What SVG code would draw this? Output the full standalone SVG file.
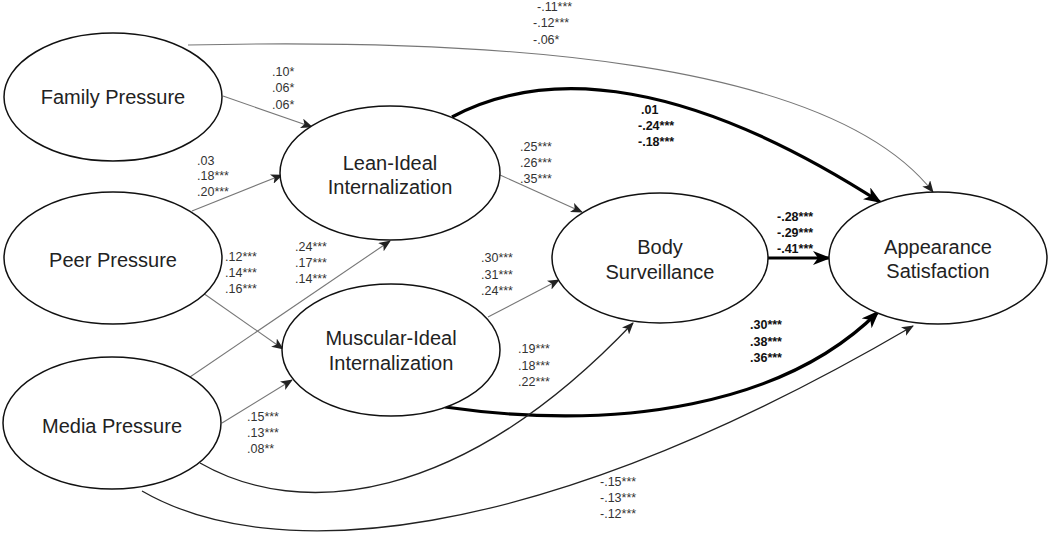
<svg xmlns="http://www.w3.org/2000/svg" width="1050" height="533" viewBox="0 0 1050 533">
<defs>
<style>
.node ellipse{fill:#fff;stroke:#111;stroke-width:1.5}
.node text{font-family:"Liberation Sans",Arial,sans-serif;font-size:20px;fill:#222;text-anchor:middle}
.thin{fill:none;stroke:#777;stroke-width:1.1}
.dark{fill:none;stroke:#222;stroke-width:1.3}
.thick{fill:none;stroke:#000;stroke-width:3.2}
.lab{font-family:"Liberation Sans",Arial,sans-serif;font-size:12.5px;fill:#333}
.lab.b{font-weight:bold;fill:#111}
</style>
<marker id="aThin" markerUnits="userSpaceOnUse" markerWidth="12" markerHeight="10" viewBox="0 0 12 10" refX="11" refY="5" orient="auto">
<path d="M0,0 L12,5 L0,10 L3,5 z" fill="#222"/>
</marker>
<marker id="aThick" markerUnits="userSpaceOnUse" markerWidth="18" markerHeight="14" viewBox="0 0 18 14" refX="16" refY="7" orient="auto">
<path d="M0,0 L18,7 L0,14 L5,7 z" fill="#000"/>
</marker>
</defs>
<rect width="1050" height="533" fill="#fff"/>
<g id="connectors">
<path class="thin" d="M188,45 C500,38 830,60 933,192" marker-end="url(#aThin)"/>
<path class="thin" d="M223,96 L312,127" marker-end="url(#aThin)"/>
<path class="thin" d="M192,211 L282,175" marker-end="url(#aThin)"/>
<path class="thin" d="M203,293 L283,349" marker-end="url(#aThin)"/>
<path class="thin" d="M190,377 L390,241" marker-end="url(#aThin)"/>
<path class="thin" d="M222,423 L292,380" marker-end="url(#aThin)"/>
<path class="thin" d="M500,175 L582,212" marker-end="url(#aThin)"/>
<path class="thin" d="M488,317 L559,280" marker-end="url(#aThin)"/>
<path class="thick" d="M452,117 C550,65 690,80 880,202" marker-end="url(#aThick)"/>
<path class="thick" d="M768,258 L829,258" marker-end="url(#aThick)"/>
<path class="thick" d="M445,407 C620,432 785,405 878,312" marker-end="url(#aThick)"/>
<path class="dark" d="M200,463 C300,520 460,505 633,323" marker-end="url(#aThin)"/>
<path class="dark" d="M142,491 C270,565 530,550 913,326" marker-end="url(#aThin)"/>
</g>
<g id="family" class="node"><ellipse cx="113" cy="97" rx="109" ry="64"/><text x="113" y="104">Family Pressure</text></g>
<g id="peer" class="node"><ellipse cx="113" cy="258" rx="109" ry="66"/><text x="113" y="267">Peer Pressure</text></g>
<g id="media" class="node"><ellipse cx="112" cy="423" rx="109" ry="66"/><text x="112" y="433">Media Pressure</text></g>
<g id="lean" class="node"><ellipse cx="390" cy="173" rx="110" ry="67"/><text x="390" y="170">Lean-Ideal</text><text x="390" y="194">Internalization</text></g>
<g id="muscular" class="node"><ellipse cx="391" cy="350" rx="109" ry="66"/><text x="391" y="345">Muscular-Ideal</text><text x="391" y="370">Internalization</text></g>
<g id="body" class="node"><ellipse cx="660" cy="258" rx="108" ry="65"/><text x="660" y="254">Body</text><text x="660" y="279">Surveillance</text></g>
<g id="appearance" class="node"><ellipse cx="938" cy="258" rx="109" ry="66"/><text x="938" y="254">Appearance</text><text x="938" y="278">Satisfaction</text></g>
<g id="labels">
<text class="lab" x="537" y="11">-.11***</text><text class="lab" x="533" y="27">-.12***</text><text class="lab" x="533" y="44">-.06*</text>
<text class="lab" x="272" y="76">.10*</text><text class="lab" x="272" y="92">.06*</text><text class="lab" x="272" y="109">.06*</text>
<text class="lab" x="197" y="165">.03</text><text class="lab" x="197" y="180">.18***</text><text class="lab" x="197" y="196">.20***</text>
<text class="lab" x="225" y="261">.12***</text><text class="lab" x="225" y="277">.14***</text><text class="lab" x="225" y="293">.16***</text>
<text class="lab" x="295" y="251">.24***</text><text class="lab" x="295" y="267">.17***</text><text class="lab" x="295" y="283">.14***</text>
<text class="lab" x="520" y="151">.25***</text><text class="lab" x="520" y="167">.26***</text><text class="lab" x="520" y="183">.35***</text>
<text class="lab" x="481" y="262">.30***</text><text class="lab" x="481" y="279">.31***</text><text class="lab" x="481" y="295">.24***</text>
<text class="lab" x="518" y="353">.19***</text><text class="lab" x="518" y="370">.18***</text><text class="lab" x="518" y="386">.22***</text>
<text class="lab" x="247" y="421">.15***</text><text class="lab" x="247" y="437">.13***</text><text class="lab" x="247" y="453">.08**</text>
<text class="lab b" x="641" y="114">.01</text><text class="lab b" x="638" y="130">-.24***</text><text class="lab b" x="638" y="146">-.18***</text>
<text class="lab b" x="777" y="221">-.28***</text><text class="lab b" x="777" y="237">-.29***</text><text class="lab b" x="777" y="253">-.41***</text>
<text class="lab b" x="750" y="329">.30***</text><text class="lab b" x="750" y="346">.38***</text><text class="lab b" x="750" y="362">.36***</text>
<text class="lab" x="600" y="486">-.15***</text><text class="lab" x="600" y="502">-.13***</text><text class="lab" x="600" y="518">-.12***</text>
</g>
</svg>
